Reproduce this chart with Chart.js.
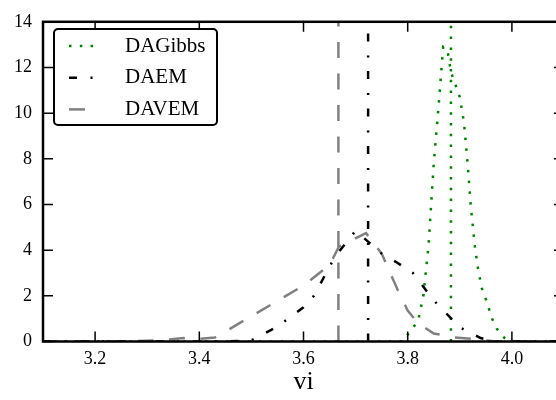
<!DOCTYPE html>
<html lang="en">
<head>
<meta charset="UTF-8">
<title>vi density</title>
<script src="https://cdn.jsdelivr.net/npm/chart.js"></script>
<style>
  html, body { margin: 0; padding: 0; overflow: hidden; background: #fff; }
</style>
</head>
<body>
<canvas id="myChart" width="564" height="400"></canvas>
<script>
// values
const gibbsVi   = [3.10, 3.79, 3.80, 3.82, 3.83, 3.84, 3.85, 3.86, 3.868, 3.876, 3.883, 3.90, 3.908, 3.915, 3.921, 3.929, 3.935, 3.942, 3.95, 3.962, 3.971, 3.985, 3.995, 4.10];
const gibbsDens = [0,    0,    0.3,  0.9,  2.0,  4.2,  7.8,  10.5, 12.9,  12.8,  11.8,  10.7, 9.6,   7.8,   5.95,  4.15,  3.2,   2.35,  1.85, 1.0,   0.56,  0.17,  0,     0];

const daemVi   = [3.10, 3.45, 3.50, 3.55, 3.60, 3.62, 3.66, 3.70, 3.75, 3.78, 3.81, 3.85, 3.90, 3.94, 3.97, 4.10];
const daemDens = [0,    0,    0.05, 0.65, 1.5,  2.0,  3.7,  4.85, 3.85, 3.45, 3.0,  1.8,  0.62, 0.15, 0,    0];

const davemVi   = [3.10, 3.20, 3.28, 3.33, 3.37, 3.40, 3.43, 3.60, 3.65, 3.668, 3.72, 3.75, 3.78, 3.80, 3.82, 3.85, 3.89, 3.93, 3.97, 4.10];
const davemDens = [0,    0,    0.02, 0.06, 0.15, 0.12, 0.17, 2.45, 3.35, 4.15,  4.75, 3.85, 2.3,  1.35, 0.8,  0.35, 0.18, 0.1,  0,    0];

// vertical marker lines
const gibbsLine = 3.883;
const daemLine  = 3.724;
const davemLine = 3.667;

const xTicks = [3.2, 3.4, 3.6, 3.8, 4.0];
const yTicks = [0, 2, 4, 6, 8, 10, 12, 14];

const serif = 'Liberation Serif';

function pts(xs, ys) { return xs.map((x, i) => ({ x: x, y: ys[i] })); }
function vline(x) { return [{ x: x, y: 0 }, { x: x, y: 14 }]; }

const gibbsStyle = { borderColor: '#008000', borderWidth: 2.5, borderDash: [2.5, 8.3] };
const daemStyle  = { borderColor: '#000000', borderWidth: 2.5, borderDash: [8, 13.5, 2, 14] };
const davemStyle = { borderColor: '#808080', borderWidth: 2.5, borderDash: [16, 15.5] };

const frame = {
    id: 'frame',
    afterDatasetsDraw(chart) {
        const { ctx, chartArea: a, scales: { x, y } } = chart;
        ctx.save();
        ctx.strokeStyle = '#000';
        ctx.lineWidth = 1.5;
        ctx.setLineDash([]);
        ctx.beginPath();
        x.ticks.forEach(t => {
            const px = x.getPixelForValue(t.value);
            ctx.moveTo(px, a.bottom); ctx.lineTo(px, a.bottom - 10);
            ctx.moveTo(px, a.top); ctx.lineTo(px, a.top + 10);
        });
        y.ticks.forEach(t => {
            const py = y.getPixelForValue(t.value);
            ctx.moveTo(a.left, py); ctx.lineTo(a.left + 10, py);
            ctx.moveTo(a.right, py); ctx.lineTo(a.right - 10, py);
        });
        ctx.stroke();
        ctx.lineWidth = 2.5;
        ctx.strokeRect(a.left, a.top, a.right - a.left, a.bottom - a.top);

        // legend box
        const bx = 54, by = 29, bw = 163, bh = 96, r = 4;
        ctx.beginPath();
        ctx.roundRect(bx, by, bw, bh, r);
        ctx.fillStyle = '#fff';
        ctx.fill();
        ctx.lineWidth = 2;
        ctx.stroke();

        const rows = chart.data.datasets.filter(d => d.label);
        ctx.font = '21px "' + serif + '"';
        ctx.textBaseline = 'middle';
        rows.forEach((d, i) => {
            const ry = 46 + i * 31.7;
            ctx.beginPath();
            ctx.strokeStyle = d.borderColor;
            ctx.lineWidth = d.borderWidth;
            ctx.setLineDash(d.borderDash);
            ctx.moveTo(69, ry);
            ctx.lineTo(95, ry);
            ctx.stroke();
            ctx.setLineDash([]);
            ctx.fillStyle = '#000';
            ctx.fillText(d.label, 125, ry);
        });
        ctx.restore();
    }
};

const ctx = document.getElementById('myChart').getContext('2d');
const chart = new Chart(ctx, {
    type: 'line',
    data: {
        datasets: [
            Object.assign({ label: 'DAGibbs', data: pts(gibbsVi, gibbsDens) }, gibbsStyle),
            Object.assign({ label: 'DAEM', data: pts(daemVi, daemDens) }, daemStyle),
            Object.assign({ label: 'DAVEM', data: pts(davemVi, davemDens) }, davemStyle),
            Object.assign({ data: vline(gibbsLine) }, gibbsStyle),
            Object.assign({ data: vline(daemLine) }, daemStyle),
            Object.assign({ data: vline(davemLine) }, davemStyle)
        ]
    },
    options: {
        responsive: false,
        animation: false,
        events: [],
        elements: { point: { radius: 0 }, line: { tension: 0, fill: false } },
        layout: { padding: { top: 17, left: 0, right: 0, bottom: 0 } },
        plugins: { legend: { display: false }, tooltip: { enabled: false } },
        scales: {
            x: {
                type: 'linear',
                min: 3.1,
                max: 4.1,
                afterBuildTicks: s => { s.ticks = xTicks.map(v => ({ value: v })); },
                afterFit: s => { s.height = 58.5; },
                grid: { display: true, drawOnChartArea: false, drawTicks: false },
                border: { display: false },
                ticks: {
                    autoSkip: false, maxRotation: 0, padding: 7, color: '#000',
                    font: { family: serif, size: 18 },
                    callback: v => v.toFixed(1)
                },
                title: {
                    display: true, text: 'vi', color: '#000',
                    font: { family: serif, size: 26 },
                    padding: { top: 4, bottom: 2 }
                }
            },
            y: {
                min: 0,
                max: 14,
                afterBuildTicks: s => { s.ticks = yTicks.map(v => ({ value: v })); },
                afterFit: s => { s.width = 43; },
                grid: { display: true, drawOnChartArea: false, drawTicks: false },
                border: { display: false },
                ticks: {
                    padding: 11, color: '#000',
                    font: { family: serif, size: 18 }
                }
            }
        }
    },
    plugins: [frame]
});
</script>
</body>
</html>
